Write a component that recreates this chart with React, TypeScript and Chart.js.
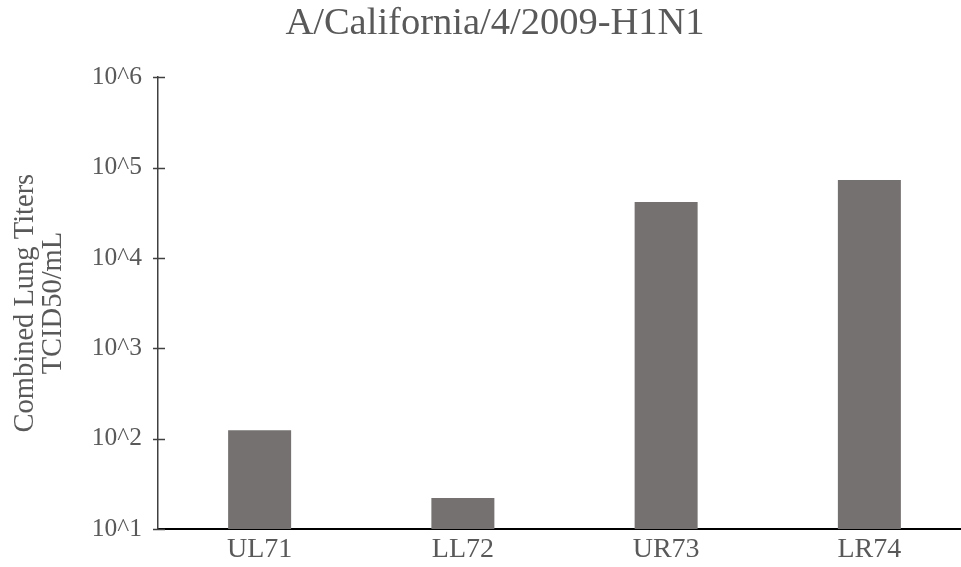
import React, { useEffect, useRef } from "react";
import { Chart, registerables } from "chart.js";

Chart.register(...registerables);

const categories = ["UL71", "LL72", "UR73", "LR74"];
const titerValues = [124, 22, 41500, 73000];
const tickValues = [10, 100, 1000, 10000, 100000, 1000000];
const tickLabels = ["10^1", "10^2", "10^3", "10^4", "10^5", "10^6"];
const chartTitle = "A/California/4/2009-H1N1";
const yTitle = ["Combined Lung Titers", "TCID50/mL"];

const FONT = "'Liberation Serif', 'Times New Roman', serif";
const TEXT = "#595959";

const crossTicks = {
  id: "crossTicks",
  afterDraw(chart: any) {
    const s = chart.scales.y;
    const ctx = chart.ctx;
    const left = chart.chartArea.left;
    ctx.save();
    ctx.strokeStyle = "#404040";
    ctx.lineWidth = 1.5;
    tickValues.forEach((v) => {
      const y = Math.round(s.getPixelForValue(v)) + 0.5;
      ctx.beginPath();
      ctx.moveTo(left - 5, y);
      ctx.lineTo(left + 7, y);
      ctx.stroke();
    });
    ctx.restore();
  },
};

export default function App() {
  const ref = useRef<HTMLCanvasElement | null>(null);
  useEffect(() => {
    if (!ref.current) return;
    const chart = new Chart(ref.current, {
      type: "bar",
      data: {
        labels: categories,
        datasets: [
          {
            data: titerValues,
            backgroundColor: "#767171",
            barPercentage: 0.31,
            categoryPercentage: 1,
          },
        ],
      },
      options: {
        animation: false,
        responsive: false,
        maintainAspectRatio: false,
        layout: { padding: { top: 0, left: 19, right: 0, bottom: 0 } },
        plugins: {
          legend: { display: false },
          tooltip: { enabled: false },
          title: {
            display: true,
            text: chartTitle,
            color: TEXT,
            font: { family: FONT, size: 38.5, weight: "normal", lineHeight: 1.2 },
            padding: { top: 1, bottom: 30 },
          },
        },
        scales: {
          x: {
            grid: { display: false, drawTicks: false },
            border: { display: true, color: "#000000", width: 2 },
            ticks: {
              color: TEXT,
              font: { family: FONT, size: 28 },
              padding: 4,
            },
            afterFit(axis: any) {
              axis.height = 38;
            },
          },
          y: {
            type: "logarithmic",
            min: 10,
            max: 1000000,
            grid: { display: false, drawTicks: false },
            border: { display: true, color: "#404040", width: 1.5 },
            afterBuildTicks(axis: any) {
              axis.ticks = tickValues.map((v) => ({ value: v }));
            },
            ticks: {
              color: TEXT,
              font: { family: FONT, size: 25.5 },
              padding: 16,
              callback: (_v: any, i: number) => tickLabels[i],
            },
            title: {
              display: true,
              text: yTitle,
              color: TEXT,
              font: { family: FONT, size: 28.5, lineHeight: 0.97 },
              padding: { top: -7, bottom: 0 },
            },
            afterFit(axis: any) {
              axis.width = 139;
            },
          },
        },
      },
      plugins: [crossTicks],
    });
    return () => chart.destroy();
  }, []);
  return (
    <div style={{ position: "fixed", left: 0, top: 0, width: 971, height: 567, background: "#fff" }}>
      <canvas ref={ref} width={971} height={567} style={{ width: 971, height: 567 }} />
    </div>
  );
}
